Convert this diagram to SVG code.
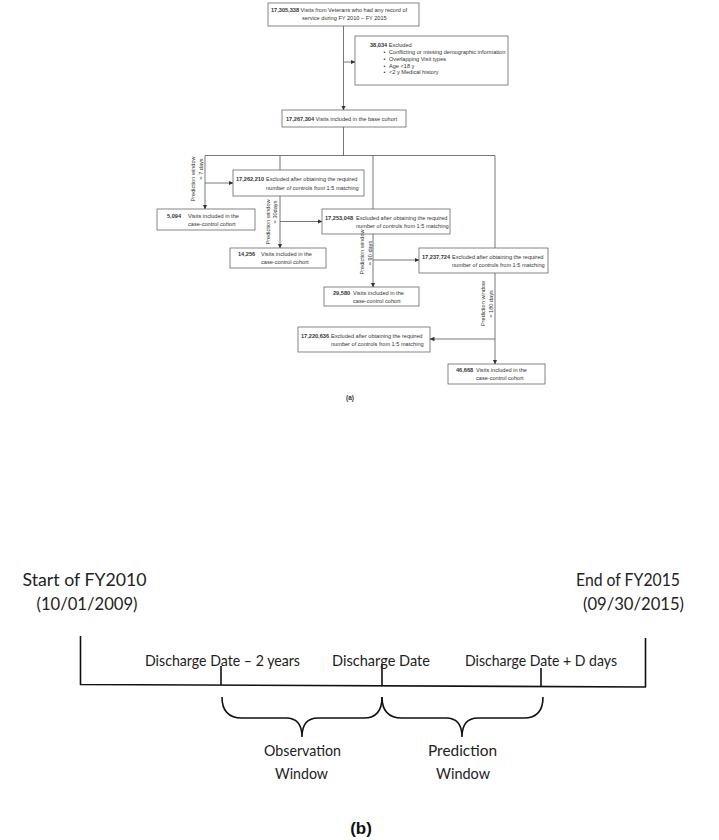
<svg xmlns="http://www.w3.org/2000/svg" width="719" height="840" viewBox="0 0 719 840">
<style>
.box{fill:#fff;stroke:#666;stroke-width:0.8}
.t{font-family:"Liberation Sans",Arial,sans-serif;font-size:5.6px;fill:#333}
.b{font-weight:bold}
.c{fill:none;stroke:#555;stroke-width:0.8}
.rot{font-family:"Liberation Sans",Arial,sans-serif;font-size:5.6px;fill:#333;text-anchor:middle}
.big{font-family:Lato,"Open Sans",sans-serif;font-size:16px;fill:#222;text-anchor:middle}
.hd{font-size:17px}
.ln{fill:none;stroke:#111;stroke-width:1.6}
</style>
<defs>
<marker id="ah" markerWidth="5" markerHeight="5" refX="4.5" refY="2.5" orient="auto" markerUnits="userSpaceOnUse">
<path d="M0,0.3 L5,2.5 L0,4.7 Z" fill="#333"/>
</marker>
</defs>
<rect width="719" height="840" fill="#fff"/>
<g id="connectors">
<path class="c" d="M343.5,26 V110" marker-end="url(#ah)"/>
<path class="c" d="M343.5,62 H355" marker-end="url(#ah)"/>
<path class="c" d="M343.5,127 V155.5 M205,155.5 H495"/>
<path class="c" d="M205,155.5 V209" marker-end="url(#ah)"/>
<path class="c" d="M205,183 H233" marker-end="url(#ah)"/>
<path class="c" d="M280,155.5 V248" marker-end="url(#ah)"/>
<path class="c" d="M280,221.5 H322" marker-end="url(#ah)"/>
<path class="c" d="M373,155.5 V287" marker-end="url(#ah)"/>
<path class="c" d="M373,260 H419" marker-end="url(#ah)"/>
<path class="c" d="M495,155.5 V364" marker-end="url(#ah)"/>
<path class="c" d="M495,339 H430" marker-end="url(#ah)"/>
</g>
<g id="n1">
<rect class="box" x="268" y="3" width="151" height="23"/>
<text class="t" x="271" y="12"><tspan class="b">17,305,338</tspan> Visits from Veterans who had any record of</text>
<text class="t" x="302" y="19.5">service during FY 2010 – FY 2015</text>
</g>
<g id="n2">
<rect class="box" x="355" y="36" width="153" height="49"/>
<text class="t" x="370" y="47"><tspan class="b">38,034</tspan> Excluded</text>
<text class="t" x="383.5" y="54">•</text><text class="t" x="389" y="54">Conflicting or missing demographic information</text>
<text class="t" x="383.5" y="61">•</text><text class="t" x="389" y="61">Overlapping Visit types</text>
<text class="t" x="383.5" y="67.5">•</text><text class="t" x="389" y="67.5">Age &lt;18 y</text>
<text class="t" x="383.5" y="74">•</text><text class="t" x="389" y="74">&lt;2 y Medical history</text>
</g>
<g id="n3">
<rect class="box" x="282" y="110" width="124" height="17"/>
<text class="t" x="286" y="121"><tspan class="b">17,267,304</tspan> Visits included in the base cohort</text>
</g>
<g id="n4">
<rect class="box" x="233" y="170" width="131" height="26"/>
<text class="t b" x="236" y="181">17,262,210</text>
<text class="t" x="266" y="181">Excluded after obtaining the required</text>
<text class="t" x="266" y="190">number of controls from 1:5 matching</text>
</g>
<g id="n5">
<rect class="box" x="157" y="209" width="98" height="21"/>
<text class="t b" x="167" y="218">5,094</text>
<text class="t" x="188" y="218">Visits included in the</text>
<text class="t" x="188" y="226">case-control cohort</text>
</g>
<g id="n6">
<rect class="box" x="322" y="209" width="128" height="25"/>
<text class="t b" x="325" y="219.5">17,253,048</text>
<text class="t" x="356" y="219.5">Excluded after obtaining the required</text>
<text class="t" x="356" y="228">number of controls from 1:5 matching</text>
</g>
<g id="n7">
<rect class="box" x="230" y="248" width="96" height="20"/>
<text class="t b" x="238" y="256">14,256</text>
<text class="t" x="261" y="256">Visits included in the</text>
<text class="t" x="261" y="264">case-control cohort</text>
</g>
<g id="n8">
<rect class="box" x="419" y="248" width="129" height="25"/>
<text class="t b" x="422" y="258.5">17,237,724</text>
<text class="t" x="452" y="258.5">Excluded after obtaining the required</text>
<text class="t" x="452" y="267">number of controls from 1:5 matching</text>
</g>
<g id="n9">
<rect class="box" x="324" y="287" width="95" height="19"/>
<text class="t b" x="333" y="295">29,580</text>
<text class="t" x="353" y="295">Visits included in the</text>
<text class="t" x="353" y="303">case-control cohort</text>
</g>
<g id="n10">
<rect class="box" x="298" y="327" width="132" height="25"/>
<text class="t b" x="301" y="337.5">17,220,636</text>
<text class="t" x="331" y="337.5">Excluded after obtaining the required</text>
<text class="t" x="331" y="346">number of controls from 1:5 matching</text>
</g>
<g id="n11">
<rect class="box" x="448" y="364" width="97" height="20"/>
<text class="t b" x="456" y="372">46,668</text>
<text class="t" x="476" y="372">Visits included in the</text>
<text class="t" x="476" y="380">case-control cohort</text>
</g>
<g id="labels">
<text class="rot" transform="translate(195,179) rotate(-90)">Prediction window</text>
<text class="rot" transform="translate(202.5,169) rotate(-90)">= 7 days</text>
<text class="rot" transform="translate(269.5,222) rotate(-90)">Prediction window</text>
<text class="rot" transform="translate(277,212) rotate(-90)">= 30days</text>
<text class="rot" transform="translate(364,252) rotate(-90)">Prediction window</text>
<text class="rot" transform="translate(371.5,253) rotate(-90)">= 90 days</text>
<text class="rot" transform="translate(485,303.5) rotate(-90)">Prediction window</text>
<text class="rot" transform="translate(492.5,304) rotate(-90)">= 180 days</text>
<text x="350" y="400" font-family="Liberation Sans,Arial,sans-serif" font-size="6.5" font-weight="bold" fill="#333" text-anchor="middle">(a)</text>
</g>
<g id="timeline">
<text class="big hd" x="84.5" y="586" textLength="124" lengthAdjust="spacingAndGlyphs">Start of FY2010</text>
<text class="big hd" x="87" y="610" textLength="101" lengthAdjust="spacingAndGlyphs">(10/01/2009)</text>
<text class="big hd" x="628" y="586" textLength="104" lengthAdjust="spacingAndGlyphs">End of FY2015</text>
<text class="big hd" x="633.5" y="610" textLength="101" lengthAdjust="spacingAndGlyphs">(09/30/2015)</text>
<path class="ln" d="M80.5,636 V685 M80,684.5 L646,687 M645.5,638 V687"/>
<path class="ln" d="M221,666 V685 M382,664 V686 M541,668 V687"/>
<text class="big" x="222.5" y="666" textLength="155" lengthAdjust="spacingAndGlyphs">Discharge Date – 2 years</text>
<text class="big" x="381" y="666" textLength="98" lengthAdjust="spacingAndGlyphs">Discharge Date</text>
<text class="big" x="541" y="666" textLength="152" lengthAdjust="spacingAndGlyphs">Discharge Date + D days</text>
<path class="ln" d="M222,697 Q222,718 242,718 L286,718 Q302,718 302,737 Q302,718 318,718 L364,718 Q382,718 382,697"/>
<path class="ln" d="M382,697 Q382,718 402,718 L446,718 Q462,718 462,737 Q462,718 478,718 L524,718 Q543,718 543,697"/>
<text class="big" x="302.5" y="756" textLength="77" lengthAdjust="spacingAndGlyphs">Observation</text>
<text class="big" x="301.5" y="779" textLength="53" lengthAdjust="spacingAndGlyphs">Window</text>
<text class="big" x="462.5" y="756" textLength="69" lengthAdjust="spacingAndGlyphs">Prediction</text>
<text class="big" x="463" y="779" textLength="54" lengthAdjust="spacingAndGlyphs">Window</text>
<text x="361" y="834" font-family="Liberation Sans,Arial,sans-serif" font-size="17" font-weight="bold" fill="#111" text-anchor="middle">(b)</text>
</g>
</svg>
